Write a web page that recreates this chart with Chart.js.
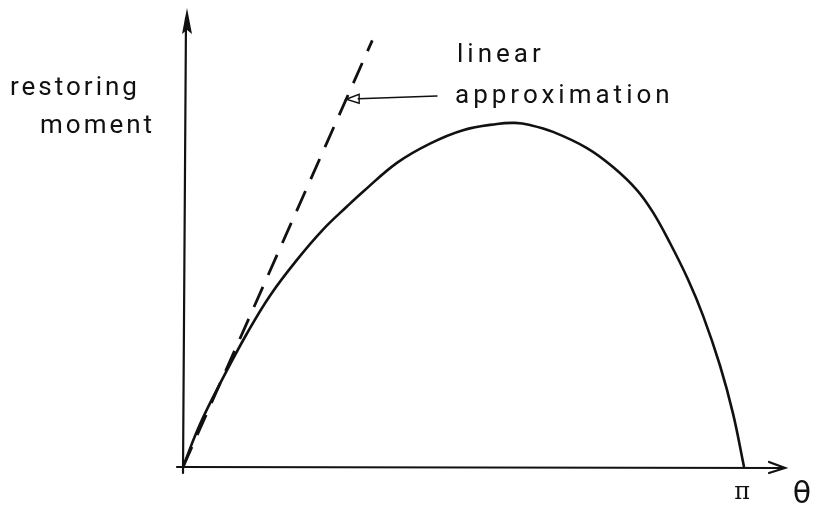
<!DOCTYPE html>
<html>
<head>
<meta charset="utf-8">
<script src="https://cdn.jsdelivr.net/npm/chart.js@4"></script>
<style>
  html, body { margin: 0; padding: 0; background: #fff; }
  #wrap { position: relative; width: 818px; height: 517px; }
</style>
</head>
<body>
<div id="wrap"><canvas id="MomentChart"></canvas></div>
<script>
// heel angle (rad) and restoring moment (peak = 1)
var theta  = [0, 0.095, 0.224, 0.358, 0.487, 0.638, 0.784, 0.918, 1.008, 1.198, 1.383, 1.568, 1.758, 1.859, 1.943, 2.072, 2.262, 2.408, 2.542, 2.632, 2.727, 2.828, 2.912, 3.007, 3.080, 3.1416];
var moment = [0, 0.124, 0.259, 0.388, 0.498, 0.602, 0.690, 0.757, 0.800, 0.884, 0.940, 0.979, 0.997, 1.000, 0.994, 0.974, 0.927, 0.872, 0.805, 0.740, 0.651, 0.545, 0.440, 0.295, 0.155, 0];

// tangent at the origin
var linTheta  = [0, 1.06];
var linMoment = [0, 1.24];

var xMax = 3.371;
var yMax = 1.334;

function pts(xs, ys) {
    var out = [];
    for (var i = 0; i < xs.length; i++) out.push({ x: xs[i], y: ys[i] });
    return out;
}

var ink = '#111';
var font = '26px Roboto, "DejaVu Sans", sans-serif';

// axes with arrow heads, plus the text labels
var sketchPlugin = {
    id: 'sketch',
    beforeDatasetsDraw: function (chart) {
        var ctx = chart.ctx;
        var xs = chart.scales.x, ys = chart.scales.y;
        var x0 = xs.getPixelForValue(0), y0 = ys.getPixelForValue(0);
        var xEnd = xs.right, yEnd = ys.top;
        ctx.save();
        ctx.strokeStyle = ink;
        ctx.fillStyle = ink;
        ctx.lineWidth = 2.2;
        ctx.lineCap = 'round';

        // theta axis
        ctx.beginPath();
        ctx.moveTo(x0 - 6, y0);
        ctx.lineTo(xEnd - 2, y0 + 1);
        ctx.stroke();
        ctx.beginPath();
        ctx.moveTo(xEnd - 16, y0 - 5);
        ctx.lineTo(xEnd, y0 + 1);
        ctx.lineTo(xEnd - 16, y0 + 6);
        ctx.stroke();

        // moment axis
        ctx.beginPath();
        ctx.moveTo(x0, y0 + 6);
        ctx.lineTo(x0 + 3, yEnd + 10);
        ctx.stroke();
        ctx.beginPath();
        ctx.moveTo(x0 + 4, yEnd);
        ctx.lineTo(x0 + 9, yEnd + 26);
        ctx.lineTo(x0 + 4, yEnd + 22);
        ctx.lineTo(x0 - 1, yEnd + 26);
        ctx.closePath();
        ctx.fill();

        // labels
        ctx.font = font;
        ctx.textBaseline = 'alphabetic';
        ctx.textAlign = 'left';
        ctx.letterSpacing = '3px';
        ctx.fillText('restoring', 10, 95);
        ctx.fillText('moment', 40, 133);
        ctx.letterSpacing = '4px';
        ctx.fillText('linear', 457, 62);
        ctx.fillText('approximation', 455, 103);
        ctx.letterSpacing = '0px';

        ctx.font = '24px "DejaVu Serif", serif';
        ctx.textAlign = 'center';
        ctx.fillText('\u03C0', xs.getPixelForValue(Math.PI) - 2, 499);
        ctx.font = '30px "DejaVu Sans", sans-serif';
        ctx.fillText('\u03B8', 802, 503);

        // pointer from the label to the tangent line
        var f = 0.862;
        var tipX = xs.getPixelForValue(linTheta[1] * f);
        var tipY = ys.getPixelForValue(linMoment[1] * f);
        ctx.lineWidth = 1.4;
        ctx.beginPath();
        ctx.moveTo(437, 96);
        ctx.lineTo(tipX + 12, tipY - 0.5);
        ctx.stroke();
        ctx.beginPath();
        ctx.moveTo(tipX, tipY);
        ctx.lineTo(tipX + 13, tipY - 5);
        ctx.lineTo(tipX + 13, tipY + 4);
        ctx.closePath();
        ctx.stroke();
        ctx.restore();
    }
};

var ctx = document.getElementById('MomentChart').getContext('2d');
var config = {
    type: 'scatter',
    data: {
        datasets: [
            {
                label: 'restoring moment',
                data: pts(theta, moment),
                showLine: true,
                borderColor: ink,
                borderWidth: 2.6,
                pointRadius: 0,
                tension: 0.4
            },
            {
                label: 'linear approximation',
                data: pts(linTheta, linMoment),
                showLine: true,
                borderColor: ink,
                borderWidth: 2.8,
                borderDash: [22, 13],
                borderCapStyle: 'butt',
                pointRadius: 0
            }
        ]
    },
    options: {
        responsive: true,
        maintainAspectRatio: false,
        animation: false,
        layout: { padding: { left: 183, right: 33, top: 8, bottom: 50 } },
        plugins: {
            legend: { display: false },
            tooltip: { enabled: false }
        },
        scales: {
            x: { type: 'linear', min: 0, max: xMax, display: false },
            y: { type: 'linear', min: 0, max: yMax, display: false }
        }
    },
    plugins: [sketchPlugin]
};
var momentChart = new Chart(ctx, config);
</script>
</body>
</html>
